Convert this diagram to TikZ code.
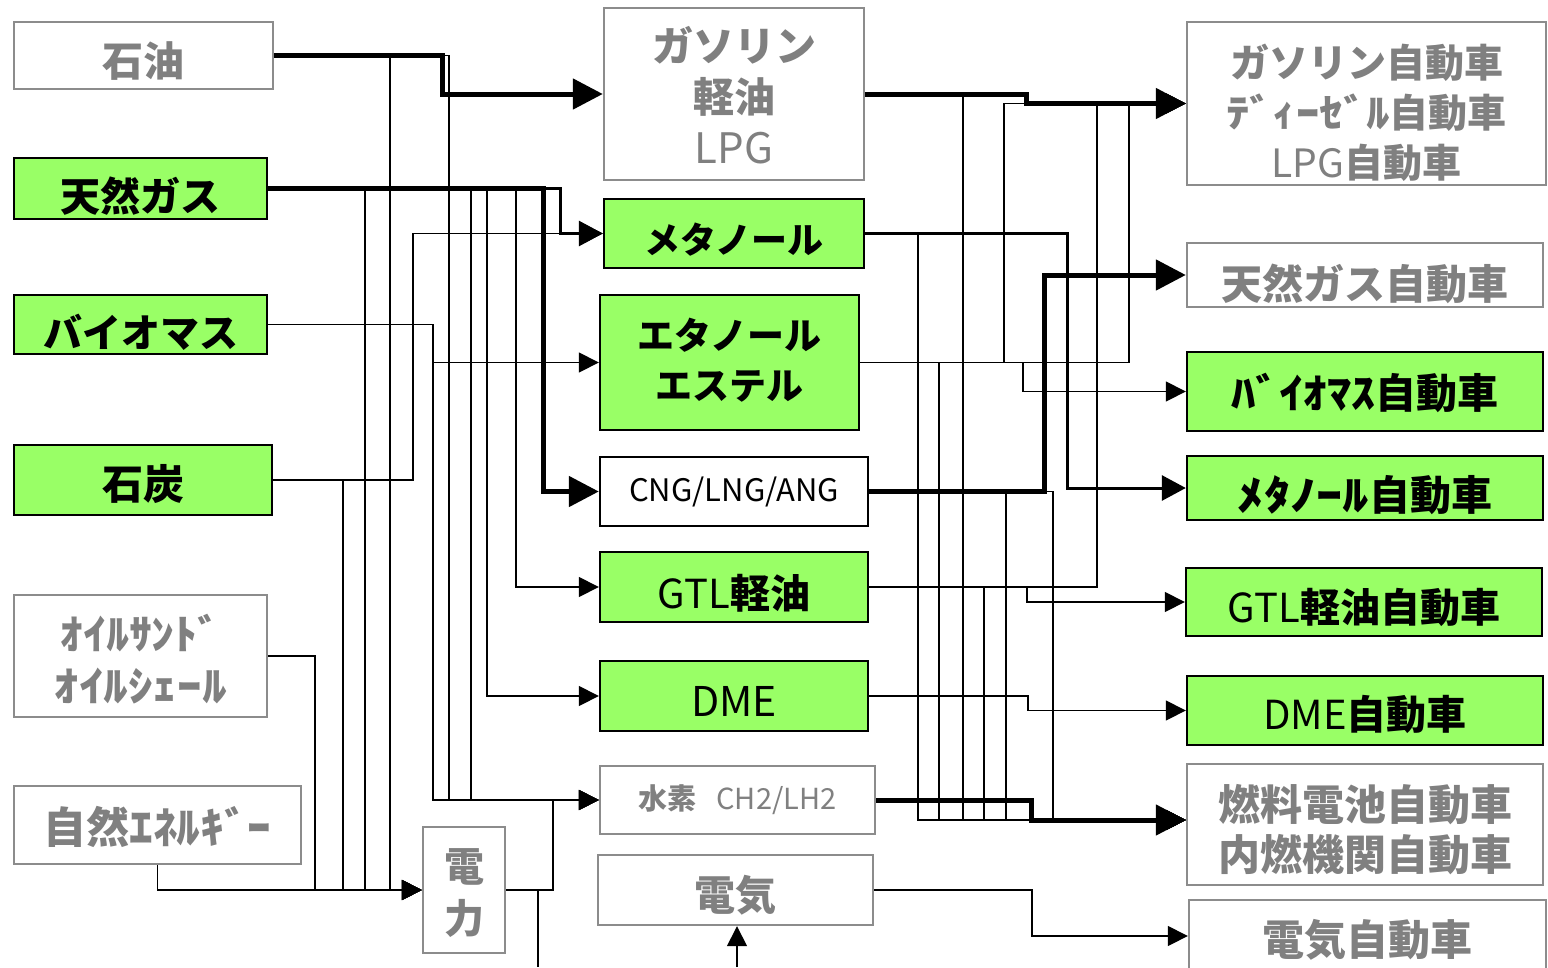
\documentclass[tikz,border=0pt]{standalone}
\usepackage{fontspec}
\usepackage{graphicx}
\setmainfont{Noto Sans CJK JP}
\usetikzlibrary{arrows.meta}
\definecolor{grfill}{HTML}{99FF66}
\definecolor{gyline}{HTML}{8C8C8C}
\definecolor{gytext}{HTML}{808080}
\newcommand\hwkana[2]{\scalebox{#1}[1]{#2}}
\begin{document}
\begin{tikzpicture}[x=1pt,y=-1pt,
  box/.style={rectangle, line width=2.4pt, inner sep=0pt},
  gbox/.style={box, draw=gyline, fill=white},
  fbox/.style={box, draw=black, fill=grfill},
  wbox/.style={box, draw=black, fill=white},
  sz/.style 2 args={minimum width=#1pt, minimum height=#2pt},
  tx/.style={inner sep=0pt, align=center, text=black},
  gtx/.style={tx, text=gytext},
  fb/.style={font=\fontsize{#1}{50}\selectfont\bfseries},
  thn/.style={line width=1.6pt},
  med/.style={line width=3pt},
  thk/.style={line width=5pt},
  athn/.style={thn, -{Triangle[length=20pt,width=20pt]}},
  amed/.style={med, -{Triangle[length=24pt,width=25pt]}},
  athk/.style={thk, -{Triangle[length=30pt,width=30pt]}},
]
\useasboundingbox (0,0) rectangle (1548,967);

% ---------- left column ----------
\node[gbox, sz={259}{67}] (oil) at (143.5,55.5) {};
\node[fbox, sz={253}{61}] (ng) at (140.5,188.5) {};
\node[fbox, sz={253}{59}] (bio) at (140.5,324.5) {};
\node[fbox, sz={258}{70}] (coal) at (143,480) {};
\node[gbox, sz={253}{122}] (sand) at (140.5,656) {};
\node[gbox, sz={287}{78}] (renew) at (157.5,825) {};
\node[gbox, sz={82}{126}] (power) at (464,890) {};

\node[gtx, fb=41] (oil-t) at ([yshift=-6pt]oil.center) {石油};
\node[tx, fb=40] (ng-t) at ([yshift=-8pt]ng.center) {天然ガス};
\node[tx, fb=39] (bio-t) at ([yshift=-8pt]bio.center) {バイオマス};
\node[tx, fb=41] (coal-t) at ([yshift=-4pt]coal.center) {石炭};
\node[gtx, font=\fontsize{41}{52}\selectfont\bfseries] (sand-t) at ([yshift=-3pt]sand.center) {\hwkana{1.12}{ｵｲﾙｻﾝﾄﾞ}\\\hwkana{1.2}{ｵｲﾙｼｪｰﾙ}};
\node[gtx, fb=43] (renew-t) at ([yshift=-2pt]renew.center) {自然\hwkana{1.1}{ｴﾈﾙｷﾞｰ}};
\node[gtx, font=\fontsize{40}{52}\selectfont\bfseries] (power-t) at ([yshift=-3pt]power.center) {電\\力};

% ---------- middle column ----------
\node[gbox, sz={260}{172}] (gas) at (734,94) {};
\node[fbox, sz={260}{69}] (meth) at (734,233.5) {};
\node[fbox, sz={259}{135}] (eth) at (729.5,362.5) {};
\node[wbox, sz={268}{69}] (cng) at (734,491.5) {};
\node[fbox, sz={268}{70}] (gtl) at (734,587) {};
\node[fbox, sz={268}{70}] (dme) at (734,696) {};
\node[gbox, sz={275}{68}] (h2) at (737.5,800) {};
\node[gbox, sz={275}{70}] (elec) at (735.5,890) {};

\node[gtx, font=\fontsize{41}{51}\selectfont\bfseries] (gas-t) at ([yshift=-1pt]gas.center) {ガソリン\\軽油\\{\mdseries\fontsize{42}{51}\selectfont LPG}};
\node[tx, fb=36] (meth-t) at ([yshift=-6pt]meth.center) {メタノール};
\node[tx, fb=37] (eth-t) at ([yshift=2pt]eth.center) {エタノール\\エステル};
\node[tx, font=\fontsize{31}{36}\selectfont] (cng-t) at (cng.center) {CNG/LNG/ANG};
\node[tx, fb=40] (gtl-t) at ([yshift=-6pt]gtl.center) {{\mdseries GTL}軽油};
\node[tx, font=\fontsize{41}{50}\selectfont] (dme-t) at ([yshift=-5pt]dme.center) {DME};
\node[gtx, font=\fontsize{29}{36}\selectfont] (h2-t) at (h2.center) {{\bfseries 水素}\hspace{20pt}CH2/LH2};
\node[gtx, fb=41] (elec-t) at ([yshift=-5pt]elec.center) {電気};

% ---------- right column ----------
\node[gbox, sz={359}{163}] (vgas) at (1366.5,103.5) {};
\node[gbox, sz={356}{64}] (vng) at (1365,275) {};
\node[fbox, sz={356}{79}] (vbio) at (1365,391.5) {};
\node[fbox, sz={356}{64}] (vmeth) at (1365,488) {};
\node[fbox, sz={356}{68}] (vgtl) at (1364,602) {};
\node[fbox, sz={356}{69}] (vdme) at (1365,710.5) {};
\node[gbox, sz={356}{121}] (vfc) at (1365,824.5) {};
\node[gbox, sz={357}{72}] (vev) at (1367.5,936) {};

\node[gtx, fb=39] (vgas-t) at ([yshift=-9pt]vgas.center) {ガソリン自動車\\\hwkana{1.2}{ﾃﾞｨｰｾﾞﾙ}自動車\\{\mdseries LPG}自動車};
\node[gtx, fb=41] (vng-t) at ([yshift=-9pt]vng.center) {天然ガス自動車};
\node[tx, fb=41] (vbio-t) at ([yshift=-1pt]vbio.center) {\hwkana{1.17}{ﾊﾞｲｵﾏｽ}自動車};
\node[tx, fb=41] (vmeth-t) at ([yshift=-7pt]vmeth.center) {\hwkana{1.28}{ﾒﾀﾉｰﾙ}自動車};
\node[tx, fb=40] (vgtl-t) at ([yshift=-5pt]vgtl.center) {{\mdseries GTL}軽油自動車};
\node[tx, fb=40] (vdme-t) at ([yshift=-4pt]vdme.center) {{\mdseries DME}自動車};
\node[gtx, fb=42] (vfc-t) at ([yshift=-5pt]vfc.center) {燃料電池自動車\\内燃機関自動車};
\node[gtx, fb=42] (vev-t) at ([yshift=-4pt]vev.center) {電気自動車};

% ---------- bus coordinates (left) ----------
\coordinate (xoilg) at (442,0);
\coordinate (xoilp) at (390,0);
\coordinate (xoilh) at (449,0);
\coordinate (xngc) at (543,0);
\coordinate (xngm) at (560,0);
\coordinate (xngp) at (365,0);
\coordinate (xngh) at (471,0);
\coordinate (xngd) at (487,0);
\coordinate (xngt) at (516,0);
\coordinate (xbio) at (433,0);
\coordinate (xcoalm) at (413,0);
\coordinate (xcoalp) at (343,0);
\coordinate (xsand) at (315,0);
\coordinate (xpwh) at (553,0);
\coordinate (pdown) at (538,967);
\coordinate (ein) at (737,967);
% ---------- bus coordinates (right) ----------
\coordinate (xgasv) at (1026,0);
\coordinate (xgasf) at (963,0);
\coordinate (xmethv) at (1067,0);
\coordinate (xmethf) at (918,0);
\coordinate (xethg1) at (1129,0);
\coordinate (xethg2) at (1004,0);
\coordinate (xethb) at (1023,0);
\coordinate (xethf) at (939,0);
\coordinate (xcngv) at (1044,0);
\coordinate (xcngf1) at (1053,0);
\coordinate (xcngf2) at (1006,0);
\coordinate (xgtlg) at (1097,0);
\coordinate (xgtlv) at (1027,0);
\coordinate (xgtlf) at (984,0);
\coordinate (xdme) at (1028,0);
\coordinate (xh2) at (1031,0);
\coordinate (xelec) at (1032,0);
\coordinate (fcin) at ([yshift=4.5pt]vfc.west);

% ---------- left connectors (thin first) ----------
\draw[athn] (oil.east) -| (xoilp |- power.west) -- (power.west);
\draw[athn] (oil.east) -| (xoilh |- h2.west) -- (h2.west);
\draw[athn] (ng.east) -| (xngp |- power.west) -- (power.west);
\draw[athn] (ng.east) -| (xngh |- h2.west) -- (h2.west);
\draw[athn] (ng.east) -| (xngd |- dme.west) -- (dme.west);
\draw[athn] (ng.east) -| (xngt |- gtl.west) -- (gtl.west);
\draw[athn] (bio.east) -| (xbio |- eth.west) -- (eth.west);
\draw[athn] (bio.east) -| (xbio |- h2.west) -- (h2.west);
\draw[athn] (coal.east) -| (xcoalm |- meth.west) -- (meth.west);
\draw[athn] (coal.east) -| (xcoalp |- power.west) -- (power.west);
\draw[athn] (sand.east) -| (xsand |- power.west) -- (power.west);
\draw[athn] (renew.south) |- (power.west);
\draw[athn] (power.east) -| (xpwh |- h2.west) -- (h2.west);
\draw[thn] (power.east) -| (pdown);
\draw[athn] (ein) -- (ein |- elec.south);
\draw[amed] (ng.east) -| (xngm |- meth.west) -- (meth.west);
\draw[athk] (oil.east) -| (xoilg |- gas.west) -- (gas.west);
\draw[athk] (ng.east) -| (xngc |- cng.west) -- (cng.west);

% ---------- right connectors ----------
\draw[athn] (gas.east) -| (xgasf |- fcin) -- (fcin);
\draw[athn] (meth.east) -| (xmethf |- fcin) -- (fcin);
\draw[athn] (eth.east) -| (xethg1 |- vgas.west) -- (vgas.west);
\draw[athn] (eth.east) -| (xethg2 |- vgas.west) -- (vgas.west);
\draw[athn] (eth.east) -| (xethb |- vbio.west) -- (vbio.west);
\draw[athn] (eth.east) -| (xethf |- fcin) -- (fcin);
\draw[athn] (cng.east) -| (xcngf1 |- fcin) -- (fcin);
\draw[athn] (cng.east) -| (xcngf2 |- fcin) -- (fcin);
\draw[athn] (gtl.east) -| (xgtlg |- vgas.west) -- (vgas.west);
\draw[athn] (gtl.east) -| (xgtlv |- vgtl.west) -- (vgtl.west);
\draw[athn] (gtl.east) -| (xgtlf |- fcin) -- (fcin);
\draw[athn] (dme.east) -| (xdme |- vdme.west) -- (vdme.west);
\draw[athn] (elec.east) -| (xelec |- vev.west) -- (vev.west);
\draw[amed] (meth.east) -| (xmethv |- vmeth.west) -- (vmeth.west);
\draw[athk] (gas.east) -| (xgasv |- vgas.west) -- (vgas.west);
\draw[athk] (cng.east) -| (xcngv |- vng.west) -- (vng.west);
\draw[athk] (h2.east) -| (xh2 |- fcin) -- (fcin);
\end{tikzpicture}
\end{document}
